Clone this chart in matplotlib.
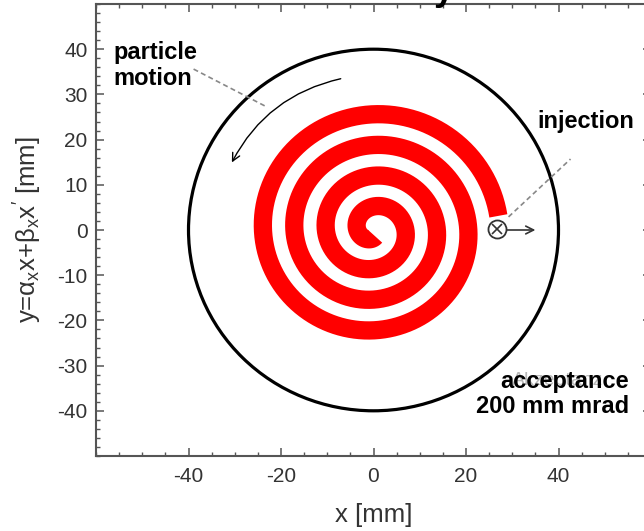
import numpy as np
import matplotlib
matplotlib.use("Agg")
import matplotlib.pyplot as plt
from matplotlib.patches import Circle, FancyArrowPatch
from matplotlib.ticker import MultipleLocator

plt.rcParams['font.family'] = ['Liberation Sans', 'DejaVu Sans']
plt.rcParams['mathtext.fontset'] = 'custom'
plt.rcParams['mathtext.rm'] = 'Liberation Sans'
plt.rcParams['mathtext.it'] = 'Liberation Sans'
plt.rcParams['mathtext.bf'] = 'Liberation Sans:bold'
plt.rcParams['axes.unicode_minus'] = False

# acceptance ellipse (circle in normalised phase space)
acceptance_radius = 40.0

# painted beam spiral
spiral_r_top = 25.6        # radius of outer turn at the top (90 deg)
spiral_pitch = 6.8         # radial step per turn
spiral_start_deg = 6.6     # angle of the outer (injection) end
spiral_r_inner = 1.5       # radius where the spiral stops in the centre
spiral_width = 4.0         # band width in mm

# injection point and arrows
inj_point = (26.8, 0.2)
inj_arrow = [(28.8, 0.0), (35.0, 0.0)]
inj_leader = [(29.2, 2.9), (42.6, 15.7)]
motion_arrow = [(-6.5, 33.6), (-30.9, 14.4)]
motion_leader = [(-38.9, 35.6), (-23.4, 27.4)]

x_ticks = [-40, -20, 0, 20, 40]
y_ticks = [-40, -30, -20, -10, 0, 10, 20, 30, 40]

fig = plt.figure(figsize=(6.44, 5.31), dpi=100)
ax = fig.add_axes([96 / 644, 75 / 531, 555 / 644, 452 / 531])
ax.set_xlim(-60, 60)
ax.set_ylim(-50, 50)

# spiral
theta_end = 90 + (spiral_r_top - spiral_r_inner) / spiral_pitch * 360
theta = np.linspace(spiral_start_deg, theta_end, 2000)
r = spiral_r_top + spiral_pitch * (90 - theta) / 360
ax.plot(r * np.cos(np.radians(theta)), r * np.sin(np.radians(theta)),
        color='#ff0000', lw=spiral_width * 4.57 * 0.72,
        solid_capstyle='butt', zorder=2)

# acceptance circle
ax.add_patch(Circle((0, 0), acceptance_radius, fill=False, ec='black',
                    lw=2.3, zorder=3))

# particle motion arrow
arr = FancyArrowPatch(motion_arrow[0], motion_arrow[1],
                      connectionstyle='arc3,rad=0.24', arrowstyle='->',
                      mutation_scale=14, color='black', lw=1.0, zorder=4)
ax.add_patch(arr)
ax.plot(*zip(*motion_leader), color='#888888', lw=1.2,
        ls=(0, (3, 2)), zorder=4)

# injection
ax.plot(*zip(*inj_leader), color='#888888', lw=1.2, ls=(0, (3, 2)), zorder=4)
ax.plot(*inj_point, 'o', ms=13, mfc='white', mec='#333333', mew=1.3, zorder=5)
ax.plot(*inj_point, 'x', ms=7, mec='#333333', mew=1.2, zorder=6)
ax.annotate('', xy=inj_arrow[1], xytext=inj_arrow[0],
            arrowprops=dict(arrowstyle='->', color='#333333', lw=1.2,
                            mutation_scale=14, shrinkA=0, shrinkB=0),
            zorder=5)

# labels inside the plot
ax.text(-56.2, 41.8, 'particle\nmotion', fontsize=17, fontweight='bold',
        ha='left', va='top', linespacing=1.15, zorder=6)
ax.text(35.5, 24.1, 'injection', fontsize=17, fontweight='bold',
        ha='left', va='center', zorder=6)
ax.text(30.0, -34.3, 'Akzeptanz', fontsize=14, color='#b8b8b8',
        ha='left', va='baseline', zorder=5)
ax.text(55.3, -31.0, 'acceptance\n200 mm mrad', fontsize=17,
        fontweight='bold', ha='right', va='top', multialignment='right',
        linespacing=1.1, zorder=6)

# title, cut off by the top edge of the picture
fig.text(434 / 644, 1.0, 'y', fontsize=26, fontweight='bold',
         ha='left', va='baseline')

# axes styling
ax.set_xticks(x_ticks)
ax.set_yticks(y_ticks)
ax.xaxis.set_minor_locator(MultipleLocator(5))
ax.yaxis.set_minor_locator(MultipleLocator(2))
ax.tick_params(which='both', direction='in', top=True, right=True,
               color='#555555', labelcolor='#333333', labelsize=15)
ax.tick_params(which='major', length=6, width=1.1)
ax.tick_params(which='minor', length=3, width=1.0)
ax.tick_params(axis='x', pad=8)
ax.tick_params(axis='y', pad=6)
for s in ax.spines.values():
    s.set_color('#555555')
    s.set_linewidth(1.5)

ax.set_xlabel('x [mm]', fontsize=18.5, color='#333333', labelpad=12)
ax.set_ylabel(r'y=$\alpha_x$x+$\beta_x$x$^{\prime}$ [mm]', fontsize=18.5,
              color='#333333', labelpad=10)

fig.savefig('out.png', dpi=100)
